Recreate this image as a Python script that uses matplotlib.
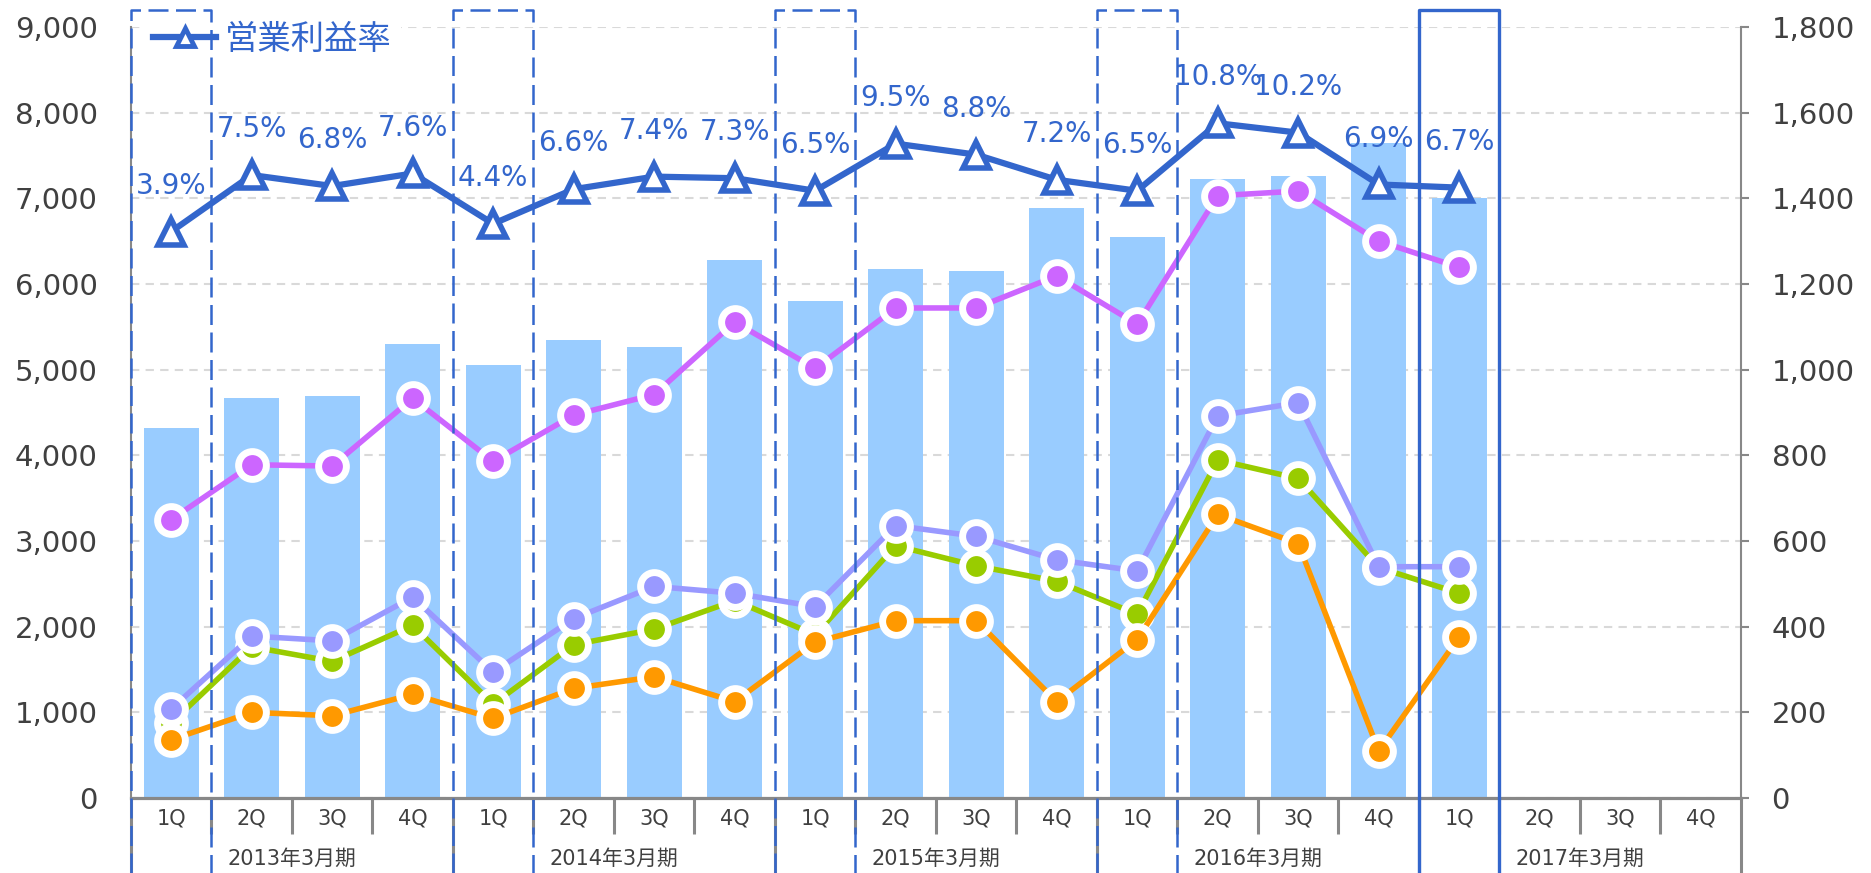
import matplotlib
matplotlib.use('Agg')
import matplotlib.pyplot as plt
from matplotlib.lines import Line2D

plt.rcParams['font.family'] = ['DejaVu Sans', 'Noto Sans CJK JP']

# categories
quarters = ['1Q', '2Q', '3Q', '4Q'] * 5
years = ['2013年3月期', '2014年3月期', '2015年3月期', '2016年3月期', '2017年3月期']

# bars (left axis)
sales = [4320, 4670, 4690, 5300, 5060, 5350, 5270, 6280, 5800,
         6180, 6150, 6890, 6550, 7230, 7260, 7650, 7000]
# lines (right axis)
profit_a = [650, 778, 775, 933, 786, 894, 942, 1111, 1003,
            1144, 1144, 1219, 1106, 1406, 1417, 1300, 1239]
profit_b = [208, 378, 367, 469, 294, 419, 494, 478, 447,
            636, 611, 556, 530, 892, 923, 540, 540]
profit_c = [175, 353, 319, 403, 219, 358, 394, 461, 381,
            589, 542, 506, 429, 789, 746, 538, 478]
profit_d = [136, 200, 192, 242, 186, 256, 283, 225, 364,
            414, 414, 225, 370, 662, 594, 110, 376]
# operating margin (%)
margin = [3.9, 7.5, 6.8, 7.6, 4.4, 6.6, 7.4, 7.3, 6.5,
          9.5, 8.8, 7.2, 6.5, 10.8, 10.2, 6.9, 6.7]

blue = '#3366CC'
gray = '#888888'
txt = '#404040'

fig = plt.figure(figsize=(18.71, 8.73), dpi=100)
ax = fig.add_axes([0.0700, 0.0859, 0.8605, 0.8832])
ax2 = ax.twinx()
ax3 = ax.twinx()

x = list(range(len(sales)))

# bars
ax.bar(x, sales, width=0.68, color='#99CCFF', zorder=2)
ax.set_xlim(-0.5, 19.5)
ax.set_ylim(0, 9000)
ax.set_yticks(range(0, 9001, 1000))
ax.set_yticklabels([f'{v:,}' for v in range(0, 9001, 1000)])
ax.tick_params(axis='y', length=0, pad=24, labelsize=21, labelcolor=txt)
ax.set_xticks([])
ax.set_axisbelow(True)
ax.yaxis.grid(True, color='#D9D9D9', lw=1.5, linestyle=(0, (4, 3)))
for s in ['top', 'right']:
    ax.spines[s].set_visible(False)
ax.spines['left'].set_color(gray)
ax.spines['left'].set_linewidth(1.5)
ax.spines['bottom'].set_color(gray)
ax.spines['bottom'].set_linewidth(2.3)

# right axis lines
ax2.set_ylim(0, 1800)
ax2.set_yticks(range(0, 1801, 200))
ax2.set_yticklabels([f'{v:,}' for v in range(0, 1801, 200)])
ax2.tick_params(axis='y', length=6, width=1.5, color=gray, pad=16,
                labelsize=21, labelcolor=txt)
for s in ['top', 'left', 'bottom']:
    ax2.spines[s].set_visible(False)
ax2.spines['right'].set_color(gray)
ax2.spines['right'].set_linewidth(1.5)

for vals, c in [(profit_a, '#CC66FF'), (profit_c, '#99CC00'),
                (profit_b, '#9999FF'), (profit_d, '#FF9900')]:
    ax2.plot(x, vals, color=c, lw=4, marker='o', ms=20,
             mfc=c, mec='white', mew=5)

# margin line on hidden axis
ax3.set_ylim(-32.17, 16.93)
ax3.axis('off')
ax3.plot(x, margin, color=blue, lw=4.5, marker='^', ms=19,
         mfc='white', mec=blue, mew=4, zorder=3)
for i, v in enumerate(margin):
    ax3.annotate(f'{v}%', (i, v), xytext=(0, 33), textcoords='offset points',
                 ha='center', va='center', fontsize=20, color=blue)

# category axis labels and separators
tr = ax.get_xaxis_transform()
for i, q in enumerate(quarters):
    ax.text(i, -0.026, q, transform=tr, ha='center', va='center',
            fontsize=15, color=txt)
for g, y in enumerate(years):
    ax.text(4 * g + 1.5, -0.079, y, transform=tr, ha='center', va='center',
            fontsize=15, color=txt)
for k in range(21):
    xb = k - 0.5
    bottom = -0.0975 if k % 4 == 0 else -0.047
    ax.plot([xb, xb], [0, bottom], transform=tr, color=gray, lw=2.2,
            clip_on=False, solid_capstyle='butt')

# highlight boxes around first quarters
top = 1.022
for i in [0, 4, 8, 12, 16]:
    if i == 16:
        kw = dict(color=blue, lw=2.4, linestyle='-')
    else:
        kw = dict(color=blue, lw=1.8, linestyle=(0, (8, 3)))
    ax3.plot([i - 0.5, i - 0.5, i + 0.5, i + 0.5], [-0.0975, top, top, -0.0975],
             transform=ax3.get_xaxis_transform(), clip_on=False, zorder=6, **kw)

# legend
h = Line2D([], [], color=blue, lw=4.5, marker='^', ms=13, mfc='white',
           mec=blue, mew=3.5)
ax3.legend([h], ['営業利益率'], loc='center left',
           bbox_to_anchor=(0.0764, 0.9553), bbox_transform=fig.transFigure,
           fontsize=24, handlelength=1.9, handletextpad=0.25, borderpad=0.3,
           borderaxespad=0, frameon=True, framealpha=1, facecolor='white',
           edgecolor='none', labelcolor=blue)

fig.savefig('out.png', dpi=100)
